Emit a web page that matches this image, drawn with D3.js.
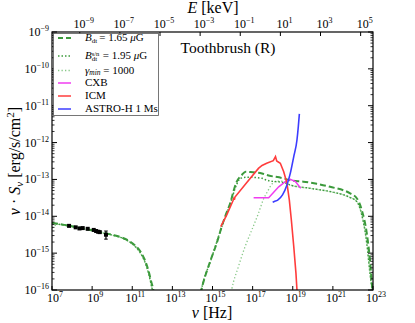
<!DOCTYPE html>
<html><head><meta charset="utf-8">
<script src="https://cdn.jsdelivr.net/npm/d3@7"></script>
<style>
body{margin:0;background:#fff}
svg{display:block}
</style>
</head><body>
<svg id="c" width="415" height="323" style="font-family:'Liberation Serif',serif"></svg>
<script>
// ---- data: [log10(nu/Hz), log10(nuS_nu / erg s^-1 cm^-2)] ----
const dashedRadio = [[7.0,-14.18],[7.5,-14.22],[8.0,-14.27],[8.5,-14.32],[9.0,-14.38],[9.5,-14.44],[10.0,-14.50],[10.5,-14.58],[10.9,-14.69],[11.2,-14.82],[11.4,-14.95],[11.6,-15.15],[11.8,-15.46],[11.95,-15.78],[12.05,-16.0],[12.1,-16.2]];
const dashedIC = [[14.4,-16.1],[14.51,-15.86],[14.88,-15.23],[15.21,-14.73],[15.46,-14.28],[15.66,-13.96],[15.91,-13.60],[16.04,-13.33],[16.21,-13.06],[16.46,-12.88],[16.65,-12.79],[16.9,-12.80],[17.47,-12.84],[17.7,-12.88],[18.53,-12.97],[18.86,-13.02],[19.53,-13.06],[20.2,-13.12],[20.86,-13.20],[21.86,-13.38],[22.19,-13.51],[22.44,-13.83],[22.69,-14.46],[22.85,-15.19],[22.97,-16.0],[23.0,-16.2]];
const dottedRadio = [[7.0,-14.19],[7.5,-14.23],[8.0,-14.28],[8.5,-14.33],[9.0,-14.39],[9.5,-14.45],[10.0,-14.51],[10.5,-14.59],[10.9,-14.71],[11.2,-14.85],[11.4,-14.99],[11.6,-15.2],[11.8,-15.52],[11.93,-15.82],[12.0,-16.0],[12.05,-16.2]];
const dottedIC = [[14.4,-16.1],[14.5,-15.86],[14.9,-15.22],[15.46,-14.29],[15.91,-13.62],[16.2,-13.14],[16.4,-12.97],[16.71,-12.94],[17.47,-12.97],[17.7,-13.02],[18.63,-13.10],[18.86,-13.15],[19.86,-13.24],[20.86,-13.33],[21.77,-13.47],[22.19,-13.60],[22.44,-13.96],[22.69,-14.73],[22.85,-15.55],[22.95,-16.0],[22.98,-16.2]];
const gminRadio = [[7.0,-14.32],[7.15,-14.25],[7.3,-14.22],[7.5,-14.23],[8.0,-14.28],[8.5,-14.33],[9.0,-14.39],[9.5,-14.45],[10.0,-14.51],[10.5,-14.59],[10.9,-14.71],[11.2,-14.85],[11.4,-14.99],[11.6,-15.2],[11.8,-15.52],[11.93,-15.82],[12.0,-16.0],[12.05,-16.2]];
const gminIC = [[15.9,-16.15],[15.96,-15.98],[16.29,-15.37],[16.62,-14.83],[16.96,-14.37],[17.29,-13.92],[17.53,-13.55],[17.75,-13.32],[17.97,-13.12],[18.2,-13.05],[18.46,-13.05],[18.86,-13.15],[19.86,-13.24],[20.86,-13.33],[21.77,-13.47],[22.19,-13.60],[22.44,-13.96],[22.69,-14.73],[22.85,-15.55],[22.95,-16.0],[22.98,-16.2]];
const icm = [[15.41,-14.28],[15.71,-13.96],[16.02,-13.58],[16.07,-13.49],[16.09,-13.55],[16.12,-13.48],[16.7,-13.09],[17.29,-12.70],[17.47,-12.62],[17.70,-12.56],[18.03,-12.49],[18.14,-12.38],[18.20,-12.50],[18.38,-12.56],[18.55,-12.79],[18.71,-13.10],[18.83,-13.56],[18.93,-14.10],[19.05,-14.82],[19.16,-15.55],[19.21,-16.0],[19.23,-16.2]];
const cxb = [[17.05,-13.50],[17.80,-13.50],[18.30,-13.20],[18.63,-13.06],[18.88,-13.00],[19.13,-13.06],[19.40,-13.24]];
const astroH = [[18.0,-13.62],[18.08,-13.60],[18.25,-13.56],[18.49,-13.42],[18.71,-13.15],[18.88,-12.83],[19.05,-12.38],[19.21,-11.93],[19.28,-11.55],[19.33,-11.22]];
const radioPoints = [[7.85,-14.26],[8.18,-14.30],[8.37,-14.33],[8.53,-14.32],[8.78,-14.34],[9.08,-14.37],[9.20,-14.40],[9.30,-14.42],[9.38,-14.43],[9.69,-14.50]];
const radioErrLo = [0,0,0,0,0,0,0,0,0,-14.62];
const radioErrHi = [0,0,0,0,0,0,0,0,0,-14.40];
const xTickExps = [7,9,11,13,15,17,19,21,23];
const yTickExps = [-9,-10,-11,-12,-13,-14,-15,-16];
const eTickExps = [-9,-7,-5,-3,-1,1,3,5];
const legendLabels = ["B_dt = 1.65 μG","B_dt^s/n = 1.95 μG","γ_min = 1000","CXB","ICM","ASTRO-H 1 Ms"];
const titleText = "Toothbrush (R)";

// ---- layout ----
const L=52, R=373, T=32, B=290;
const hKeV = 4.135667e-18;
const svg = d3.select("#c");
const x = d3.scaleLog().domain([1e7,1e23]).range([L,R]);
const y = d3.scaleLog().domain([1e-16,1e-9]).range([B,T]);
const xE = d3.scaleLog().domain([1e7*hKeV,1e23*hKeV]).range([L,R]);

const GREEN="#3c9a3c", LGREEN="#88c888", RED="#ff3c3c", MAG="#f03cf0", BLUE="#3c3cff";

svg.append("defs").append("clipPath").attr("id","clip")
  .append("rect").attr("x",L).attr("y",T).attr("width",R-L).attr("height",B-T);
const plot = svg.append("g").attr("clip-path","url(#clip)");

const lineS = d3.line().x(d=>x(Math.pow(10,d[0]))).y(d=>y(Math.pow(10,d[1]))).curve(d3.curveMonotoneX);
const lineL = d3.line().x(d=>x(Math.pow(10,d[0]))).y(d=>y(Math.pow(10,d[1])));

function draw(data, gen, color, width, dash){
  plot.append("path").attr("d",gen(data)).attr("fill","none").attr("stroke",color)
    .attr("stroke-width",width).attr("stroke-dasharray",dash||null);
}
draw(gminRadio,lineS,LGREEN,1.3,"1.3,2.2");
draw(gminIC,lineS,LGREEN,1.3,"1.3,2.2");
draw(dottedRadio,lineS,GREEN,1.5,"1.5,2");
draw(dottedIC,lineS,GREEN,1.5,"1.5,2");
draw(dashedRadio,lineS,GREEN,2,"6,3");
draw(dashedIC,lineS,GREEN,2,"6,3");
draw(cxb,lineL,MAG,1.5);
draw(icm,lineL,RED,1.6);
draw(astroH,lineS,BLUE,1.6);

// radio points
radioPoints.forEach((p,i)=>{
  const px=x(Math.pow(10,p[0])), py=y(Math.pow(10,p[1]));
  if(radioErrLo[i]!==0){
    const y1=y(Math.pow(10,radioErrHi[i])), y2=y(Math.pow(10,radioErrLo[i]));
    plot.append("line").attr("x1",px).attr("x2",px).attr("y1",y1).attr("y2",y2).attr("stroke","#000").attr("stroke-width",1.2);
    [y1,y2].forEach(yy=>plot.append("line").attr("x1",px-1.8).attr("x2",px+1.8).attr("y1",yy).attr("y2",yy).attr("stroke","#000").attr("stroke-width",1));
  }
  plot.append("rect").attr("x",px-2).attr("y",py-2).attr("width",4).attr("height",4).attr("fill","#000");
});

// frame
svg.append("rect").attr("x",L).attr("y",T).attr("width",R-L).attr("height",B-T)
  .attr("fill","none").attr("stroke","#000").attr("stroke-width",1.2);

function supText(g, base, exp){
  g.append("tspan").text(base);
  g.append("tspan").attr("dy",-5).attr("font-size",8).text(exp);
}
const fmt = e => (e<0?"\u2212":"")+Math.abs(e);

// bottom ticks
xTickExps.forEach(e=>{
  const px=x(Math.pow(10,e));
  svg.append("line").attr("x1",px).attr("x2",px).attr("y1",B).attr("y2",B-4).attr("stroke","#000");
  const t=svg.append("text").attr("x",px+3).attr("y",302).attr("text-anchor","middle").attr("font-size",12);
  supText(t,"10",fmt(e));
});
// top ticks (energy)
eTickExps.forEach(e=>{
  const px=xE(Math.pow(10,e));
  svg.append("line").attr("x1",px).attr("x2",px).attr("y1",T).attr("y2",T+4).attr("stroke","#000");
  const t=svg.append("text").attr("x",px+4).attr("y",28).attr("text-anchor","middle").attr("font-size",12);
  supText(t,"10",fmt(e));
});
// y ticks
yTickExps.forEach(e=>{
  const py=y(Math.pow(10,e));
  svg.append("line").attr("x1",L).attr("x2",L+5).attr("y1",py).attr("y2",py).attr("stroke","#000");
  svg.append("line").attr("x1",R).attr("x2",R-5).attr("y1",py).attr("y2",py).attr("stroke","#000");
  const t=svg.append("text").attr("x",49).attr("y",py+4).attr("text-anchor","end").attr("font-size",12);
  supText(t,"10",fmt(e));
  if(e>-16){
    for(let m=2;m<10;m++){
      const my=y(m*Math.pow(10,e-1));
      svg.append("line").attr("x1",L).attr("x2",L+2.5).attr("y1",my).attr("y2",my).attr("stroke","#000").attr("stroke-width",0.8);
      svg.append("line").attr("x1",R).attr("x2",R-2.5).attr("y1",my).attr("y2",my).attr("stroke","#000").attr("stroke-width",0.8);
    }
  }
});

// axis titles
const xl=svg.append("text").attr("x",212).attr("y",318).attr("text-anchor","middle").attr("font-size",16);
xl.append("tspan").attr("font-style","italic").text("ν");
xl.append("tspan").text(" [Hz]");
const el=svg.append("text").attr("x",213).attr("y",13).attr("text-anchor","middle").attr("font-size",16);
el.append("tspan").attr("font-style","italic").text("E");
el.append("tspan").text(" [keV]");
const yl=svg.append("text").attr("transform","translate(20,161) rotate(-90)").attr("text-anchor","middle").attr("font-size",16);
yl.append("tspan").attr("font-style","italic").text("ν");
yl.append("tspan").text(" · ");
yl.append("tspan").attr("font-style","italic").text("S");
yl.append("tspan").attr("font-style","italic").attr("font-size",11).attr("dy",3).text("ν");
yl.append("tspan").attr("dy",-3).text(" [erg/s/cm");
yl.append("tspan").attr("font-size",11).attr("dy",-6).text("2");
yl.append("tspan").attr("dy",6).text("]");

// title
svg.append("text").attr("x",228).attr("y",53).attr("text-anchor","middle").attr("font-size",15.5).text(titleText);

// legend
const lg=svg.append("g");
lg.append("rect").attr("x",53.5).attr("y",33.5).attr("width",105).attr("height",82)
  .attr("fill","#fff").attr("stroke","#555").attr("stroke-width",0.8);
const legStyles=[[GREEN,2,"5,3"],[GREEN,1.5,"1.5,2"],[LGREEN,1.3,"1.3,2.2"],[MAG,1.5,null],[RED,1.5,null],[BLUE,1.5,null]];
const rowsY=[37,55,69.5,82,95,108];
legendLabels.forEach((lab,i)=>{
  const yy=rowsY[i];
  const st=legStyles[i];
  lg.append("line").attr("x1",58).attr("x2",71).attr("y1",yy+1).attr("y2",yy+1)
    .attr("stroke",st[0]).attr("stroke-width",st[1]).attr("stroke-dasharray",st[2]);
  const t=lg.append("text").attr("x",85).attr("y",yy+4).attr("font-size",11);
  if(i===0||i===1){
    const val=lab.split(" = ")[1].split(" ");
    t.append("tspan").attr("font-style","italic").text("B");
    const subStart=t.node().getComputedTextLength();
    let w;
    if(i===1){
      t.append("tspan").attr("font-size",6.5).attr("dy",-3.5).text("s/n");
      const w1=t.node().getComputedTextLength();
      t.append("tspan").attr("x",85+subStart).attr("font-size",7).attr("dy",5.5).text("dt");
      w=Math.max(w1, subStart+9);
      t.append("tspan").attr("x",85+w+2).attr("dy",-2).text("= "+val[0]+" ");
    } else {
      t.append("tspan").attr("font-size",7).attr("dy",1.5).text("dt");
      w=t.node().getComputedTextLength();
      t.append("tspan").attr("x",85+w+2).attr("dy",-1.5).text("= "+val[0]+" ");
    }
    t.append("tspan").attr("font-style","italic").text("μ");
    t.append("tspan").text("G");
  } else if(i===2){
    t.append("tspan").attr("font-style","italic").text("γ");
    t.append("tspan").attr("font-style","italic").attr("font-size",7.5).attr("dy",1.5).text("min");
    t.append("tspan").attr("dy",-1.5).text(" = 1000");
  } else {
    t.text(lab);
  }
});
</script>
</body></html>
